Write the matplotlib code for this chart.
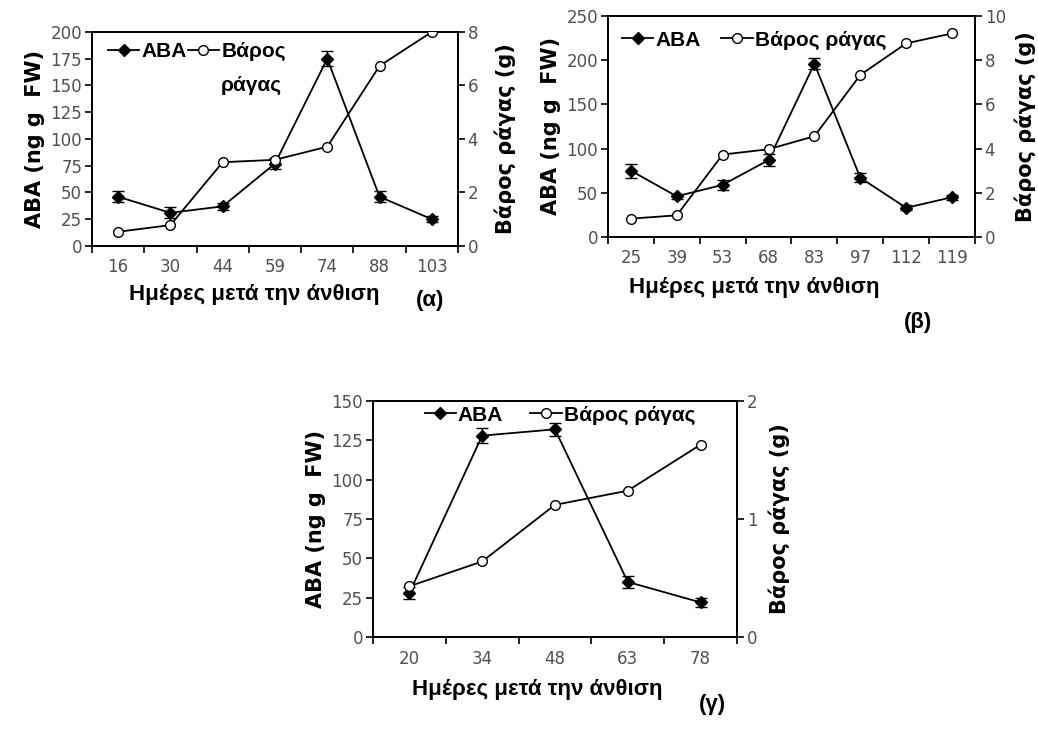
import numpy as np
import matplotlib
matplotlib.use("Agg")
import matplotlib.pyplot as plt
from matplotlib.lines import Line2D

plt.rcParams['font.family'] = ['DejaVu Sans']

# (α)
days_a = [16, 30, 44, 59, 74, 88, 103]
aba_a = [46, 31, 37, 77, 175, 46, 25]
aba_err_a = [5, 5, 3, 5, 7, 5, 3]
weight_a = [0.53, 0.78, 3.13, 3.22, 3.71, 6.73, 8.0]

# (β)
days_b = [25, 39, 53, 68, 83, 97, 112, 119]
aba_b = [75, 46, 59, 87, 196, 67, 33, 45]
aba_err_b = [8, 3, 6, 7, 6, 5, 3, 3]
weight_b = [0.83, 0.98, 3.73, 3.97, 4.56, 7.33, 8.76, 9.21]

# (γ)
days_c = [20, 34, 48, 63, 78]
aba_c = [28, 128, 132, 35, 22]
aba_err_c = [4, 5, 4, 4, 3]
weight_c = [0.43, 0.64, 1.12, 1.24, 1.63]

tick_color = '#505050'
xlabel_font = dict(family=['Liberation Sans', 'DejaVu Sans'], fontweight='bold', fontsize=16)
ylabel_font = dict(family=['DejaVu Sans'], fontweight='bold', fontsize=15)
legend_prop = dict(family=['Liberation Sans', 'DejaVu Sans'], weight='bold', size=15)


def panel(rect, days, aba, err, weight, aba_max, aba_step, w_max, w_step,
          letter, letter_xy, leg_xy, colspace, xlab_x, rpad, split_label=False):
    ax = fig.add_axes(rect)
    x = np.arange(len(days))
    ax.errorbar(x, aba, yerr=err, color='black', lw=1.3, marker='D', ms=6.5,
                mfc='black', mec='black', capsize=4, elinewidth=1, zorder=3)
    ax.set_xlim(-0.5, len(days) - 0.5)
    ax.set_ylim(0, aba_max)
    ax.set_yticks(np.arange(0, aba_max + 1, aba_step))
    ax.set_xticks(np.arange(-0.5, len(days), 1.0))
    ax.set_xticklabels([])
    ax.set_xticks(x, minor=True)
    ax.set_xticklabels([str(d) for d in days], minor=True)
    ax.tick_params(axis='x', which='minor', length=0, pad=9, labelsize=12,
                   labelcolor=tick_color)
    ax.tick_params(axis='x', which='major', length=5, width=1.2, direction='out')
    ax.tick_params(axis='y', labelsize=12, labelcolor=tick_color, length=5,
                   width=1.2, pad=2)
    ax.set_ylabel('ABA (ng g  FW)', labelpad=4, **ylabel_font)
    ax.set_xlabel('Ημέρες μετά την άνθιση', **xlabel_font)
    ax.xaxis.set_label_coords(xlab_x, -0.18)
    for s in ax.spines.values():
        s.set_linewidth(1.3)

    ax2 = ax.twinx()
    ax2.plot(x, weight, color='black', lw=1.3, marker='o', ms=7,
             mfc='white', mec='black', zorder=3)
    ax2.set_ylim(0, w_max)
    ax2.set_yticks(np.arange(0, w_max + 0.01, w_step))
    ax2.tick_params(axis='y', labelsize=12, labelcolor=tick_color, length=5,
                    width=1.2, pad=2)
    ax2.set_ylabel('Βάρος ράγας (g)', labelpad=rpad, **ylabel_font)
    for s in ax2.spines.values():
        s.set_linewidth(1.3)

    handles = [Line2D([], [], color='black', lw=1.3, marker='D', ms=6.5,
                      mfc='black'),
               Line2D([], [], color='black', lw=1.3, marker='o', ms=7,
                      mfc='white')]
    labels = ['ABA', 'Βάρος' if split_label else 'Βάρος ράγας']
    leg = ax2.legend(handles, labels, ncol=2, frameon=False, loc='center left',
                     bbox_to_anchor=leg_xy, borderpad=0, borderaxespad=0,
                     handlelength=1.5, handletextpad=0.1, columnspacing=colspace,
                     prop=legend_prop)
    fig.text(letter_xy[0], letter_xy[1], letter, ha='center', va='center',
             **xlabel_font)
    return ax2, leg


fig = plt.figure(figsize=(10.38, 7.29), dpi=100)

ax_a, leg_a = panel([0.0886, 0.6626, 0.3526, 0.2936], days_a, aba_a, aba_err_a,
                    weight_a, 200, 25, 8, 2, '(α)', (0.414, 0.588),
                    (0.044, 0.907), 0.05, 0.443, 12, split_label=True)
panel([0.5857, 0.6749, 0.3536, 0.3032], days_b, aba_b, aba_err_b, weight_b,
      250, 50, 10, 2, '(β)', (0.884, 0.558), (0.038, 0.89), 1.0, 0.398, 6)
panel([0.3593, 0.1262, 0.3507, 0.3237], days_c, aba_c, aba_err_c, weight_c,
      150, 25, 2, 1, '(γ)', (0.686, 0.033), (0.142, 0.94), 1.3, 0.45, 8)

# second line of the weight label in the (α) legend
fig.canvas.draw()
bb = leg_a.get_texts()[1].get_window_extent().transformed(fig.transFigure.inverted())
fig.text(bb.x0, bb.y0 - 0.02, 'ράγας', ha='left', va='top',
         fontproperties=leg_a.get_texts()[1].get_fontproperties())

fig.savefig('out.png', dpi=100)
